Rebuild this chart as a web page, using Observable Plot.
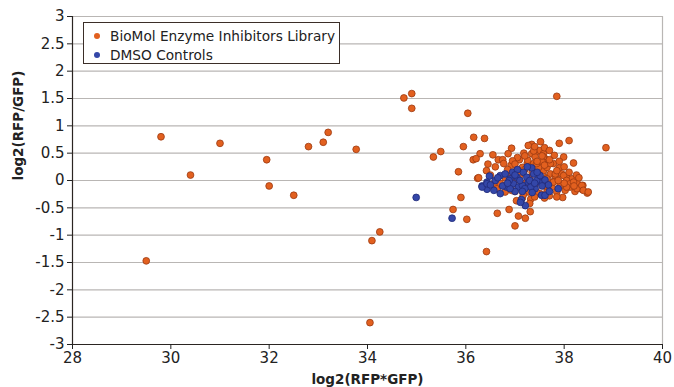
<!DOCTYPE html>
<html>
<head>
<meta charset="utf-8">
<script src="https://cdn.jsdelivr.net/npm/d3@7"></script>
<script src="https://cdn.jsdelivr.net/npm/@observablehq/plot@0.6"></script>
<style>
  html, body { margin: 0; padding: 0; background: #fff; }
  #wrap { position: relative; width: 674px; height: 387px; font-family: "DejaVu Sans", sans-serif; }
  #legend { position: absolute; left: 83px; top: 22px; width: 255px; height: 40px;
            border: 1.5px solid #3b2e28; background: #fff; font-size: 13.7px; color: #222; }
  .item { position: absolute; left: 0; height: 18px; line-height: 18px; white-space: nowrap; }
  .item span.dot { position: absolute; left: 10px; top: 6px; width: 6px; height: 6px; border-radius: 50%; }
  .item span.lab { position: absolute; left: 26px; top: 0; }
</style>
</head>
<body>
<div id="wrap">
  <div id="chart"></div>
  <div id="legend"></div>
</div>
<script>
const seriesNames = ["BioMol Enzyme Inhibitors Library", "DMSO Controls"];
const seriesColors = ["#e2601f", "#3447a8"];
const seriesStrokes = ["#9a3a12", "#1f2a78"];
const xTicks = [28, 30, 32, 34, 36, 38, 40];
const yTicks = [-3, -2.5, -2, -1.5, -1, -0.5, 0, 0.5, 1, 1.5, 2, 2.5, 3];
const xTitle = "log2(RFP*GFP)";
const yTitle = "log2(RFP/GFP)";

// BioMol library compounds [log2(RFP*GFP), log2(RFP/GFP)]
const biomol = [
  [29.5,-1.47],[29.8,0.8],[30.4,0.1],[31.0,0.68],[31.95,0.38],[32.0,-0.1],[32.5,-0.27],[32.8,0.62],
  [33.1,0.7],[33.2,0.88],[33.77,0.57],[34.09,-1.1],[34.25,-0.94],[34.05,-2.6],[34.74,1.51],[34.9,1.59],
  [34.9,1.32],[36.04,1.23],[37.85,1.54],[35.49,0.53],[35.34,0.43],[35.95,0.62],[36.16,0.79],[36.38,0.77],
  [35.85,0.16],[35.9,-0.31],[35.74,-0.53],[36.02,-0.71],[36.42,-1.3],[36.24,0.04],[38.85,0.6],[38.1,0.73],
  [37.9,0.68],[37.52,0.71],[37.34,0.66],[37.27,0.64],[36.93,0.59],[36.64,-0.6],[36.88,-0.53],[37.07,-0.65],
  [37.21,-0.69],[37.0,-0.83],[37.31,-0.57],[38.19,0.32],[37.99,0.43],[37.8,0.46],[38.47,-0.23],[38.38,-0.09],
  [37.97,-0.31],
  [36.29,0.49],[36.15,0.38],[36.21,0.4],[36.55,0.47],[36.66,0.38],[36.75,0.38],[36.77,0.31],[36.86,0.49],
  [36.92,0.28],[37.18,0.5],[37.09,0.38],[37.44,0.53],[37.51,0.55],[37.58,0.49],[37.34,0.49],[37.41,0.43],
  [37.61,0.4],[37.78,0.31],[37.68,0.31],[37.9,0.23],[37.95,0.12],[38.05,0.06],[38.16,0.03],[38.26,-0.03],
  [38.36,-0.16],[38.22,-0.2],[38.12,-0.12],[38.02,-0.18],[37.85,-0.21],[37.75,-0.12],[37.78,-0.02],[37.65,0.06],
  [37.72,0.12],[37.82,0.09],[37.58,0.18],[37.48,0.24],[37.38,0.31],[37.25,0.32],[37.15,0.24],[37.03,0.18],
  [36.57,-0.06],[36.64,-0.15],[36.42,0.18],[36.26,0.05],[37.03,-0.37],[37.15,-0.32],[37.32,-0.34],[37.51,-0.24],
  [37.65,-0.21],[37.44,-0.21],[37.27,-0.21],[37.17,-0.26],[36.93,-0.18],[36.8,-0.21],[36.73,-0.09],[37.38,0.54],
  [37.26,0.37],
  [37.58,0.43],[37.55,0.34],[37.44,0.31],[37.65,0.24],[37.72,0.31],[37.82,0.12],[37.85,0.18],[37.99,0.09],
  [38.05,0.0],[38.12,-0.06],[38.19,-0.03],[38.26,-0.15],[38.36,-0.09],[38.39,-0.18],[38.49,-0.21],[38.05,-0.12],
  [37.92,-0.09],[37.78,-0.03],[37.65,0.03],
  [36.9,0.1],[37.0,0.0],[37.1,0.1],[37.2,-0.05],[37.3,0.05],[37.4,-0.1],[37.5,0.1],[37.6,-0.1],
  [37.0,-0.2],[37.2,0.2],[36.8,0.05],[36.7,-0.05],[37.35,0.15],[37.45,0.35],[37.55,0.45],[37.7,0.38],
  [37.2,0.45],[37.05,0.42],[36.95,0.36],[37.6,0.28],[37.9,0.35],[38.0,0.25],[38.1,0.15],[38.25,0.1],
  [38.3,0.05],[38.2,-0.1],[38.0,-0.05],[37.88,0.0],[37.7,-0.28],[37.6,-0.32],[37.4,-0.3],[37.85,-0.3],
  [37.3,-0.42],[37.6,0.6],[37.7,0.55],[37.4,0.62],[37.0,0.3],[36.85,0.2],[36.6,0.25],[36.5,0.1],[36.45,0.3]
];

// DMSO controls
const dmso = [
  [34.99,-0.31],[35.72,-0.69],[37.13,-0.35],[37.21,-0.46],[36.48,0.08],[36.43,-0.03],[36.33,-0.1],[36.43,-0.16],
  [36.7,-0.24],[36.7,0.09],[36.8,0.12],[36.9,0.03],[36.97,-0.06],[37.07,-0.12],[37.17,0.15],[37.34,0.23],
  [37.38,0.12],[37.27,-0.03],[37.41,-0.15],[37.51,-0.03],[37.61,0.01],[37.68,-0.08],[37.88,-0.15],[37.54,-0.27],
  [37.61,-0.27],[37.11,-0.4],[36.88,0.0],[37.04,0.06],[36.83,-0.12],[36.57,-0.18],[37.24,0.06],[37.15,-0.09],
  [37.32,-0.12],[37.44,0.0],[37.51,0.09],[36.33,-0.12],[36.43,-0.06],
  [36.6,0.0],[36.75,-0.1],[36.95,0.15],[37.0,-0.2],[37.1,0.0],[37.2,-0.15],[37.3,0.0],[37.45,0.15],
  [37.35,-0.22],[36.9,-0.15],[36.65,0.05],[37.05,0.2],[37.25,0.25],[37.55,-0.1],[37.7,-0.2],[36.5,-0.08],
  [37.15,-0.2],[37.4,-0.05],[36.85,-0.05],[37.0,0.1]
];

const fmt = d => String(d);
const plot = Plot.plot({
  width: 674,
  height: 387,
  marginLeft: 72,
  marginRight: 12,
  marginTop: 16,
  marginBottom: 43,
  style: { fontFamily: "DejaVu Sans, sans-serif", fontSize: "15px", background: "#fff", color: "#222" },
  x: { domain: [28, 40] },
  y: { domain: [-3, 3] },
  marks: [
    Plot.ruleY(yTicks, { stroke: "#b9b6b4", strokeWidth: 1.2 }),
    Plot.ruleX([40], { stroke: "#b9b6b4", strokeWidth: 1.2 }),
    Plot.dot(biomol, { x: d => d[0], y: d => d[1], r: 3.4, fill: seriesColors[0], stroke: seriesStrokes[0], strokeWidth: 0.8 }),
    Plot.dot(dmso, { x: d => d[0], y: d => d[1], r: 3.4, fill: seriesColors[1], stroke: seriesStrokes[1], strokeWidth: 0.8 }),
    Plot.ruleX([28], { stroke: "#2b2522", strokeWidth: 1.2 }),
    Plot.ruleY([-3], { stroke: "#2b2522", strokeWidth: 1.2 }),
    Plot.axisX({ ticks: xTicks, tickFormat: fmt, tickSize: 5, tickPadding: 3, label: null, fontSize: 15 }),
    Plot.axisY({ ticks: yTicks, tickFormat: fmt, tickSize: 5, tickPadding: 3, label: null, fontSize: 15 }),
    Plot.text([xTitle], { frameAnchor: "bottom", dy: 39, fontWeight: "bold", fontSize: 13.5, fill: "#222" }),
    Plot.text([yTitle], { frameAnchor: "left", dx: -54, rotate: -90, fontWeight: "bold", fontSize: 13.5, fill: "#222" })
  ]
});
document.getElementById("chart").appendChild(plot);

const legend = document.getElementById("legend");
seriesNames.forEach((name, i) => {
  const it = document.createElement("div");
  it.className = "item";
  it.style.top = (4 + i * 18.5) + "px";
  it.innerHTML = `<span class="dot" style="background:${seriesColors[i]}"></span><span class="lab">${name}</span>`;
  legend.appendChild(it);
});
</script>
</body>
</html>
